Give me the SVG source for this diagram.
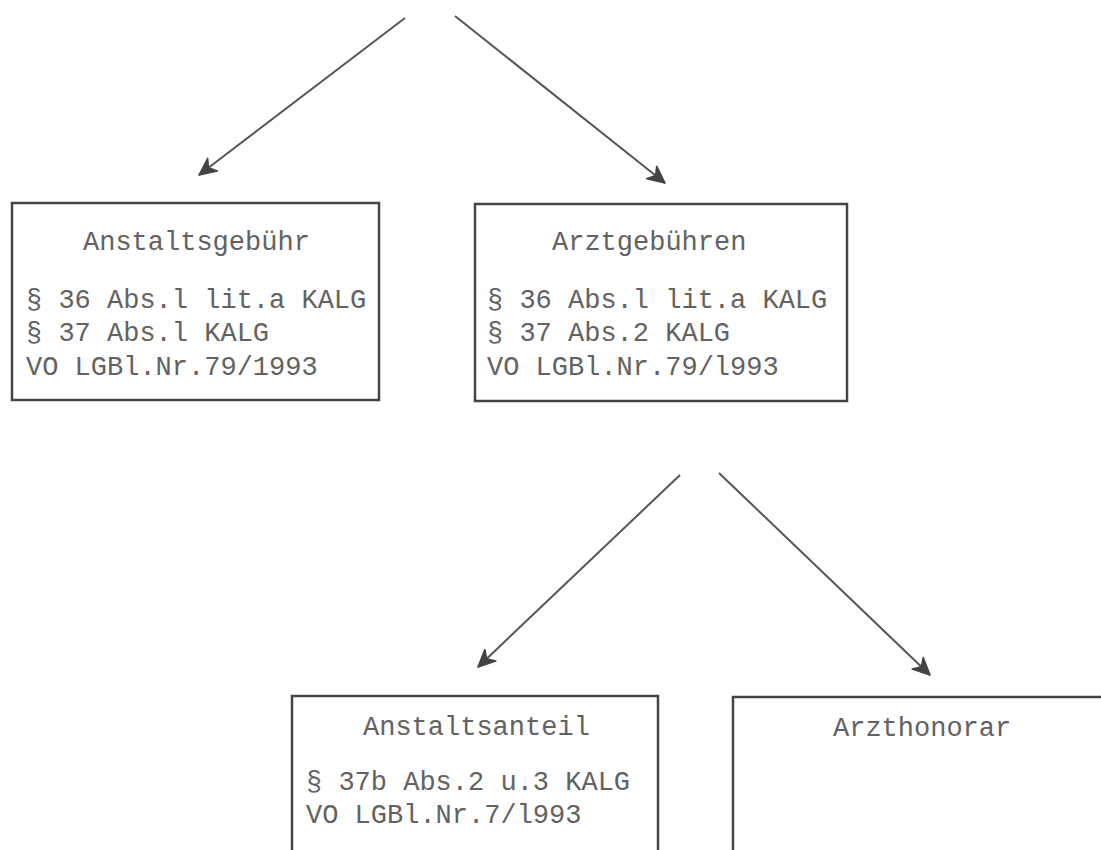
<svg xmlns="http://www.w3.org/2000/svg" width="1101" height="850" viewBox="0 0 1101 850">
<style>
.box{fill:#fff;stroke:#444;stroke-width:2.5}
.t{font-family:"Liberation Mono","DejaVu Sans Mono",monospace;font-size:27px;fill:#626262}
.c{fill:none;stroke:#555;stroke-width:2}
</style>
<defs>
<marker id="ah" viewBox="0 0 20 20" refX="18" refY="10" markerWidth="20" markerHeight="20" markerUnits="userSpaceOnUse" orient="auto">
<path d="M1,2 L18,10 L1,18 L6,10 Z" fill="#444" stroke="#444" stroke-width="1.5" stroke-linejoin="round"/>
</marker>
</defs>
<rect width="1101" height="850" fill="#fff"/>
<g id="connectors">
<line class="c" x1="405" y1="18" x2="199" y2="175" marker-end="url(#ah)"/>
<line class="c" x1="455" y1="16" x2="665" y2="183" marker-end="url(#ah)"/>
<line class="c" x1="680" y1="475" x2="478" y2="667" marker-end="url(#ah)"/>
<line class="c" x1="719" y1="473" x2="930" y2="675" marker-end="url(#ah)"/>
</g>
<g id="node-anstaltsgebuehr">
<rect class="box" x="12" y="203" width="367" height="197"/>
<text class="t" x="83" y="250">Anstaltsgebühr</text>
<text class="t" x="26" y="308">§ 36 Abs.l lit.a KALG</text>
<text class="t" x="26" y="341">§ 37 Abs.l KALG</text>
<text class="t" x="26" y="375">VO LGBl.Nr.79/1993</text>
</g>
<g id="node-arztgebuehren">
<rect class="box" x="475" y="204" width="372" height="197"/>
<text class="t" x="552" y="250">Arztgebühren</text>
<text class="t" x="487" y="308">§ 36 Abs.l lit.a KALG</text>
<text class="t" x="487" y="341">§ 37 Abs.2 KALG</text>
<text class="t" x="487" y="375">VO LGBl.Nr.79/l993</text>
</g>
<g id="node-anstaltsanteil">
<rect class="box" x="292" y="696" width="366" height="170"/>
<text class="t" x="363" y="735">Anstaltsanteil</text>
<text class="t" x="306" y="790">§ 37b Abs.2 u.3 KALG</text>
<text class="t" x="306" y="823">VO LGBl.Nr.7/l993</text>
</g>
<g id="node-arzthonorar">
<rect class="box" x="733" y="697" width="380" height="170"/>
<text class="t" x="833" y="736">Arzthonorar</text>
</g>
</svg>
